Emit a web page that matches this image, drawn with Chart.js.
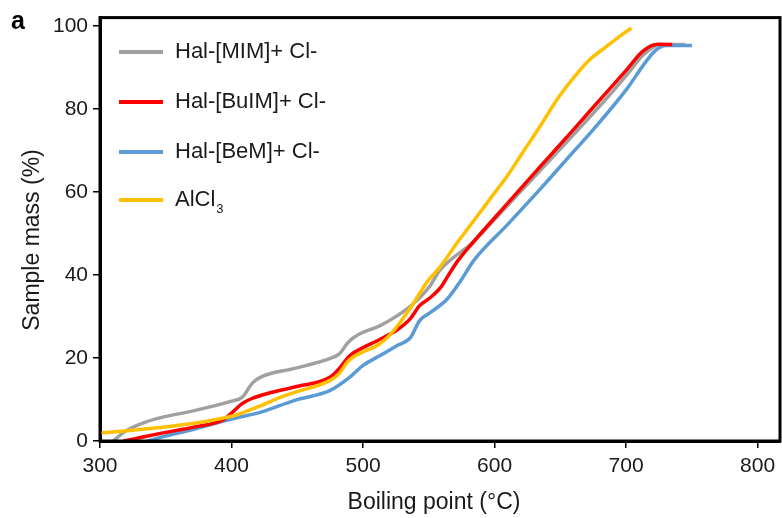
<!DOCTYPE html>
<html>
<head>
<meta charset="utf-8">
<script src="https://cdn.jsdelivr.net/npm/chart.js@4.4.0/dist/chart.umd.min.js"></script>
<style>
  html, body { margin: 0; padding: 0; background: #fff; }
  #c { display: block; }
</style>
</head>
<body>
<canvas id="c" width="782" height="518"></canvas>
<script>
// données (température en °C, masse en %)
const seriesNames = ['Hal-[MIM]+ Cl-', 'Hal-[BuIM]+ Cl-', 'Hal-[BeM]+ Cl-', 'AlCl3'];
const seriesColors = ['#a0a0a0', '#ff0000', '#5b9bd5', '#ffc000'];

const mimX = [310, 320, 334, 347, 370, 400, 408, 416, 423, 448, 475, 482, 488, 492, 498, 513, 526, 538, 551, 558, 584, 610, 635, 660, 685, 701, 713, 726, 745];
const mimY = [0, 2.5, 4.5, 5.7, 7.2, 9.6, 10.5, 14, 15.5, 17.5, 19.9, 21, 23.5, 24.7, 25.9, 27.8, 30.2, 33, 37.4, 41, 48, 56.8, 65.3, 73.8, 82.5, 88.4, 93, 95.5, 95.5];

const buimX = [318, 330, 347, 372, 393, 400, 408, 416, 428, 448, 475, 482, 490, 500, 513, 526, 536, 543, 551, 559, 565, 572, 584, 610, 635, 660, 675, 700, 713, 724, 735];
const buimY = [0, 0.8, 1.9, 3.4, 5, 6.7, 9, 10.3, 11.5, 13, 15.4, 17.5, 20.6, 22.5, 24.5, 26.8, 29.5, 32.6, 34.5, 37, 40, 43.4, 48, 57.3, 66.2, 75, 80.4, 89.3, 94, 95.6, 95.5];

const bemX = [336, 350, 372, 400, 423, 448, 475, 490, 500, 513, 526, 536, 543, 551, 564, 574, 584, 610, 635, 660, 675, 701, 713, 722, 730, 750];
const bemY = [0, 1.2, 2.9, 5.3, 7, 9.8, 12.2, 15.4, 18.2, 20.6, 23, 24.9, 29, 30.9, 34.2, 38.5, 43.4, 52.2, 60.8, 69.7, 75, 85, 90.5, 94, 95.3, 95.3];

const alclX = [300, 334, 372, 393, 403, 423, 437, 448, 475, 482, 488, 492, 513, 520, 528, 538, 549, 558, 571, 584, 597, 610, 622, 635, 648, 660, 672, 685, 695, 704];
const alclY = [1.9, 2.9, 4.3, 5.5, 6.2, 8.6, 10.5, 11.7, 14.6, 16.3, 19, 20.1, 23.5, 25.4, 28.5, 33, 38.5, 41.7, 47.5, 53, 58.5, 64, 69.8, 76, 82.5, 87.5, 91.8, 95, 97.5, 99.5];

const xTicks = [300, 400, 500, 600, 700, 800];
const yTicks = [0, 20, 40, 60, 80, 100];

const FONT = '"Liberation Sans", Arial, sans-serif';
const TXT = '#1a1a1a';

function points(xs, ys) {
    return xs.map((x, i) => ({ x: x, y: ys[i] }));
}

const allX = [mimX, buimX, bemX, alclX];
const allY = [mimY, buimY, bemY, alclY];
const drawOrder = [3, 1, 2, 0]; // jaune au-dessus, puis rouge

const datasets = seriesNames.map((name, i) => ({
    label: name,
    data: points(allX[i], allY[i]),
    borderColor: seriesColors[i],
    backgroundColor: seriesColors[i],
    borderWidth: 3.5,
    pointRadius: 0,
    tension: 0.4,
    cubicInterpolationMode: 'monotone',
    fill: false,
    order: drawOrder[i]
}));

// cadre, légende et titres dessinés à la main
const decorPlugin = {
    id: 'decor',
    afterDraw(chart) {
        const ctx = chart.ctx;
        const a = chart.chartArea;
        ctx.save();

        // cadre noir
        ctx.strokeStyle = '#000';
        ctx.lineWidth = 3;
        ctx.strokeRect(a.left, a.top, a.right - a.left, a.bottom - a.top);

        // légende
        const rows = [52, 102, 152, 200];
        ctx.textBaseline = 'middle';
        ctx.textAlign = 'left';
        seriesNames.forEach((name, i) => {
            ctx.strokeStyle = seriesColors[i];
            ctx.lineWidth = 4;
            ctx.beginPath();
            ctx.moveTo(119, rows[i]);
            ctx.lineTo(163, rows[i]);
            ctx.stroke();
            ctx.fillStyle = TXT;
            ctx.font = '22px ' + FONT;
            if (name === 'AlCl3') {
                ctx.fillText('AlCl', 175, rows[i]);
                const w = ctx.measureText('AlCl').width;
                ctx.font = '13px ' + FONT;
                ctx.fillText('3', 175 + w + 1, rows[i] + 9);
            } else {
                ctx.fillText(name, 175, rows[i]);
            }
        });

        // titres des axes
        ctx.fillStyle = TXT;
        ctx.font = '23px ' + FONT;
        ctx.textAlign = 'center';
        ctx.fillText('Boiling point (°C)', 434, 503);
        ctx.save();
        ctx.translate(33, 240);
        ctx.rotate(-Math.PI / 2);
        ctx.fillText('Sample mass (%)', 0, 0);
        ctx.restore();

        // lettre du panneau
        ctx.font = 'bold 25px ' + FONT;
        ctx.fillStyle = '#000';
        ctx.fillText('a', 18, 22);

        ctx.restore();
    }
};

const ctx = document.getElementById('c').getContext('2d');
new Chart(ctx, {
    type: 'line',
    data: { datasets: datasets },
    options: {
        responsive: false,
        animation: false,
        devicePixelRatio: 1,
        layout: { padding: { top: 15, right: 2, left: 0, bottom: 0 } },
        plugins: {
            legend: { display: false },
            tooltip: { enabled: false }
        },
        scales: {
            x: {
                type: 'linear',
                min: 300,
                max: 817,
                afterBuildTicks: (scale) => { scale.ticks = xTicks.map(v => ({ value: v })); },
                afterFit: (scale) => { scale.height = 77; },
                grid: { drawOnChartArea: false, drawTicks: true, tickLength: 7, tickColor: '#000', lineWidth: 1.5 },
                border: { color: '#000', width: 3 },
                ticks: {
                    color: TXT,
                    font: { family: FONT, size: 21 },
                    padding: 6,
                    maxRotation: 0,
                    autoSkip: false
                }
            },
            y: {
                type: 'linear',
                min: 0,
                max: 102,
                afterBuildTicks: (scale) => { scale.ticks = yTicks.map(v => ({ value: v })); },
                afterFit: (scale) => { scale.width = 100; },
                grid: { drawOnChartArea: false, drawTicks: true, tickLength: 7, tickColor: '#000', lineWidth: 1.5 },
                border: { color: '#000', width: 3 },
                ticks: {
                    color: TXT,
                    font: { family: FONT, size: 21 },
                    padding: 5,
                    autoSkip: false
                }
            }
        }
    },
    plugins: [decorPlugin]
});
</script>
</body>
</html>
